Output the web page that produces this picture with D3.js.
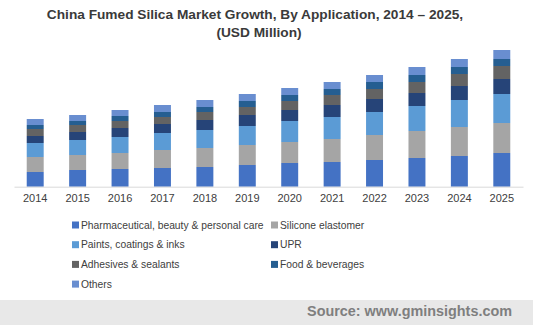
<!DOCTYPE html>
<html>
<head>
<meta charset="utf-8">
<script src="https://cdn.jsdelivr.net/npm/d3@7"></script>
<style>
  body { margin: 0; background: #fff; }
  svg { display: block; font-family: Arial, "Liberation Sans", sans-serif; }
</style>
</head>
<body>
<svg width="537" height="325"></svg>
<script>
let years = ["2014", "2015", "2016", "2017", "2018", "2019", "2020", "2021", "2022", "2023", "2024", "2025"];
let seriesNames = ["Pharmaceutical, beauty & personal care", "Silicone elastomer", "Paints, coatings & inks",
                   "UPR", "Adhesives & sealants", "Food & beverages", "Others"];
let pharma    = [14.7, 16.7, 17.7, 18.7, 19.7, 21.7, 23.7, 24.7, 26.7, 28.7, 30.7, 33.7];
let silicone  = [15, 15, 16, 18, 19, 20, 21, 23, 25, 27, 29, 30];
let paints    = [14, 15, 16, 17, 18, 19, 21, 22, 23, 25, 27, 29];
let upr       = [7, 8, 9, 9, 10, 11, 11, 12, 13, 13, 14, 15];
let adhesives = [7, 7, 7, 7, 8, 8, 9, 10, 10, 11, 12, 13];
let food      = [4, 4, 5, 5, 5, 6, 6, 6, 7, 7, 7, 7];
let others    = [6, 6, 6, 7, 7, 7, 7, 7, 7, 8, 8, 9];
let colors = ["#4472C4", "#A5A5A5", "#5B9BD5", "#264478", "#636363", "#255E91", "#698ED0"];

let keys = ["pharma", "silicone", "paints", "upr", "adhesives", "food", "others"];
let table = years.map((y, i) => ({
    year: y, pharma: pharma[i], silicone: silicone[i], paints: paints[i],
    upr: upr[i], adhesives: adhesives[i], food: food[i], others: others[i]
}));

let svg = d3.select("svg");

let xScale = d3.scaleBand()
               .domain(years)
               .range([14, 523])
               .paddingInner(0.6)
               .paddingOuter(0.3);

let yScale = d3.scaleLinear()
               .domain([0, 140])
               .range([186.7, 46.7]);

let stack = d3.stack().keys(keys)(table);

svg.append("text")
   .attr("x", 255)
   .attr("y", 19)
   .attr("text-anchor", "middle")
   .attr("font-size", "13.7px")
   .attr("font-weight", "bold")
   .attr("fill", "#3a3a3a")
   .text("China Fumed Silica Market Growth, By Application, 2014 \u2013 2025,");

svg.append("text")
   .attr("x", 259)
   .attr("y", 37)
   .attr("text-anchor", "middle")
   .attr("font-size", "13.7px")
   .attr("font-weight", "bold")
   .attr("fill", "#3a3a3a")
   .text("(USD Million)");

svg.append("g")
  .selectAll("g")
  .data(stack)
  .enter()
  .append("g")
    .attr("fill", (d, i) => colors[i])
  .selectAll("rect")
  .data(d => d)
  .enter()
  .append("rect")
    .attr("x", d => xScale(d.data.year))
    .attr("width", xScale.bandwidth())
    .attr("y", d => yScale(d[1]))
    .attr("height", d => yScale(d[0]) - yScale(d[1]));

let xAxis = d3.axisBottom(xScale).tickSize(0).tickPadding(8);

let gx = svg.append("g")
            .attr("transform", "translate(0," + yScale(0) + ")")
            .call(xAxis);
gx.select(".domain").attr("stroke", "#d9d9d9");
gx.selectAll("text")
  .attr("font-size", "11px")
  .attr("font-family", "Arial, 'Liberation Sans', sans-serif")
  .attr("fill", "#404040");

// legend, two columns
let legend = svg.append("g")
                .selectAll("g")
                .data(seriesNames)
                .enter()
                .append("g")
                  .attr("transform", (d, i) => "translate(" + (i % 2 ? 271 : 72) + "," + (225 + Math.floor(i / 2) * 19.7) + ")");

legend.append("rect")
      .attr("x", 0)
      .attr("y", -3.5)
      .attr("width", 7)
      .attr("height", 7)
      .attr("fill", (d, i) => colors[i]);

legend.append("text")
      .attr("x", 9)
      .attr("y", 0)
      .attr("dy", "0.35em")
      .attr("font-size", "10.3px")
      .attr("fill", "#404040")
      .text(d => d);

svg.append("rect")
   .attr("x", 0)
   .attr("y", 300)
   .attr("width", 533)
   .attr("height", 25)
   .attr("fill", "#e8e8e8");

svg.append("text")
   .attr("x", 512)
   .attr("y", 311)
   .attr("dy", "0.35em")
   .attr("text-anchor", "end")
   .attr("font-size", "14.4px")
   .attr("font-weight", "bold")
   .attr("fill", "#7f7f7f")
   .text("Source: www.gminsights.com");
</script>
</body>
</html>
